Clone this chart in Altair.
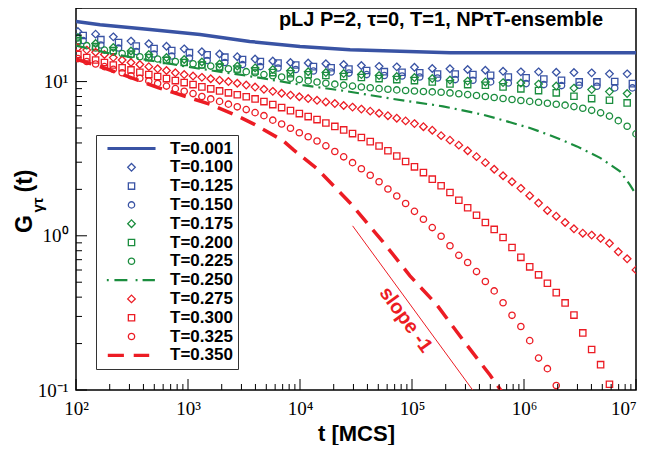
import altair as alt
import pandas as pd

# ---------------- data ----------------
SERIES = ["T=0.001", "T=0.100", "T=0.125", "T=0.150", "T=0.175", "T=0.200",
          "T=0.225", "T=0.250", "T=0.275", "T=0.300", "T=0.325", "T=0.350"]
BLUE, GREEN, RED = "#3953a4", "#1b8d3e", "#ec1c24"
COLORS = [BLUE, BLUE, BLUE, BLUE, GREEN, GREEN, GREEN, GREEN, RED, RED, RED, RED]

# legend / marker symbols (paths in unit coordinates)
DIAMOND = "M0,-1.2L1.2,0L0,1.2L-1.2,0Z"
LEG_SOLID = "M-7.6,-0.3H7.6 M-7.6,0H7.6 M-7.6,0.3H7.6"
LEG_DASHDOT = ("M-7.8,-0.14H-7.2 M-5.4,-0.14H-1.3 M1.3,-0.14H1.9 M3.5,-0.14H7.4 "
               "M-7.8,0.14H-7.2 M-5.4,0.14H-1.3 M1.3,0.14H1.9 M3.5,0.14H7.4")
LEG_DASHED = ("M-7.5,-0.3H-2.4 M0.7,-0.3H5.6 M-7.5,0H-2.4 M0.7,0H5.6 "
              "M-7.5,0.3H-2.4 M0.7,0.3H5.6")
SHAPES = [LEG_SOLID, DIAMOND, "square", "circle", DIAMOND, "square", "circle",
          LEG_DASHDOT, DIAMOND, "square", "circle", LEG_DASHED]

# sampling times (log10 t)
LOGT_DENSE = [2.017, 2.096, 2.175, 2.254, 2.333, 2.412, 2.491, 2.570, 2.650, 2.729,
              2.808, 2.887, 2.966, 3.045, 3.124, 3.203, 3.282, 3.361, 3.440, 3.520,
              3.599, 3.678, 3.757, 3.836, 3.915, 3.994, 4.073, 4.152, 4.231, 4.311,
              4.390, 4.469, 4.548, 4.627, 4.706, 4.785, 4.864, 4.943, 5.022, 5.102,
              5.181, 5.260, 5.339, 5.418, 5.497, 5.576, 5.655, 5.734, 5.813, 5.893,
              5.972, 6.051, 6.130, 6.209, 6.288, 6.367, 6.446, 6.525, 6.604, 6.684,
              6.763, 6.842, 6.921, 7.000]
LOGT_D = [2.017, 2.175, 2.333, 2.491, 2.650, 2.808, 2.966, 3.124, 3.282, 3.440,
          3.599, 3.757, 3.915, 4.073, 4.231, 4.390, 4.548, 4.706, 4.864, 5.022,
          5.181, 5.339, 5.497, 5.655, 5.813, 5.972, 6.130, 6.288, 6.446, 6.604,
          6.763, 6.921]
LOGT_S = [2.064, 2.222, 2.380, 2.538, 2.697, 2.855, 3.013, 3.171, 3.329, 3.487,
          3.646, 3.804, 3.962, 4.120, 4.278, 4.437, 4.595, 4.753, 4.911, 5.069,
          5.228, 5.386, 5.544, 5.702, 5.860, 6.019, 6.177, 6.335, 6.493, 6.651,
          6.810, 6.968]

# lines
T001_T = [100, 164, 457, 1280, 3550, 10000, 28000, 78000, 220000, 1e6, 1e7]
T001_G = [24.5, 23.4, 21.8, 20.2, 18.2, 16.9, 16.1, 15.7, 15.4, 15.4, 15.4]
T250_T = [100, 201, 458, 1280, 2910, 5400, 10600, 26300, 67600, 189000, 431000,
          705000, 1130000, 1820000, 2970000, 4780000, 7190000, 8830000, 10000000]
T250_G = [17.1, 15.2, 13.7, 12.1, 11.1, 10.3, 9.49, 8.65, 7.72, 6.91, 6.1, 5.52,
          5.0, 4.41, 3.80, 3.20, 2.62, 2.14, 1.85]
T350_T = [100, 182, 310, 540, 940, 1600, 2790, 3960, 7050, 8710, 14200, 27900,
          55100, 95900, 167000, 285000, 497000, 631000]
T350_G = [14.0, 12.2, 10.6, 9.14, 8.03, 7.09, 5.97, 5.26, 4.14, 3.62, 2.72, 1.64,
          0.914, 0.55, 0.356, 0.211, 0.125, 0.098]

# sparse marker series
T100_G = [21.1, 20.3, 19.5, 18.3, 17.6, 16.95, 16.3, 15.6, 15.1, 14.5, 14.0, 13.6,
          13.3, 13.2, 13.05, 12.9, 12.7, 12.55, 12.46, 12.37, 12.15, 12.1, 11.97,
          11.84, 11.66, 11.56, 11.56, 11.49, 11.44, 11.39, 11.22, 11.22]
T125_G = [19.9, 18.7, 17.9, 17.0, 16.4, 15.9, 15.4, 14.9, 14.4, 13.9, 13.5, 13.2,
          12.8, 12.5, 12.3, 12.05, 11.8, 11.6, 11.5, 11.4, 11.2, 11.2, 11.1, 10.99,
          10.7, 10.57, 10.4, 10.2, 9.95, 9.95, 10.0, 9.7]
T150_G = [18.46, 17.26, 16.5, 15.66, 15.09, 14.64, 14.21, 13.69, 13.29, 12.89,
          12.51, 12.24, 11.97, 11.7, 11.53, 11.35, 11.1, 10.94, 10.86, 10.7, 10.54,
          10.3, 10.2, 9.95, 9.8, 9.7, 9.56, 9.42, 9.46, 9.32, 9.1, 9.1]
T175_G = [19.3, 17.65, 16.63, 15.78, 14.97, 14.31, 13.9, 13.39, 12.99, 12.6, 12.27,
          11.97, 11.75, 11.58, 11.44, 11.27, 11.1, 10.94, 10.78, 10.62, 10.46, 10.23,
          10.07, 9.95, 9.85, 9.78, 9.63, 9.35, 9.07, 8.87, 8.61, 8.36]
T200_G = [18.46, 16.88, 15.9, 15.09, 14.31, 13.69, 13.29, 12.8, 12.42, 12.06, 11.73,
          11.44, 11.24, 11.07, 10.94, 10.78, 10.62, 10.46, 10.3, 10.15, 9.93, 9.66,
          9.56, 9.46, 9.24, 8.97, 8.74, 8.45, 8.03, 7.76, 7.56, 7.27]

# dense marker series
T225_G = [18.05, 17.1, 16.5, 16.0, 15.5, 15.2, 14.9, 14.5, 14.3, 14.0, 13.8, 13.5,
          13.3, 13.05, 12.8, 12.6, 12.4, 12.1, 11.9, 11.6, 11.4, 11.1, 10.9, 10.7,
          10.5, 10.3, 10.1, 9.93, 9.76, 9.62, 9.48, 9.35, 9.23, 9.12, 9.0, 8.91,
          8.83, 8.75, 8.69, 8.62, 8.57, 8.52, 8.44, 8.34, 8.23, 8.12, 8.0, 7.88,
          7.77, 7.65, 7.54, 7.44, 7.34, 7.24, 7.13, 7.03, 6.88, 6.71, 6.51, 6.27,
          5.97, 5.58, 5.13, 4.58]
T275_G = [16.6, 16.0, 15.5, 15.0, 14.3, 13.8, 13.3, 12.9, 12.5, 12.1, 11.8, 11.4,
          11.1, 10.86, 10.65, 10.43, 10.21, 10.0, 9.75, 9.49, 9.21, 8.91, 8.64, 8.40,
          8.17, 7.97, 7.76, 7.56, 7.38, 7.20, 7.00, 6.83, 6.63, 6.43, 6.23, 6.01,
          5.79, 5.56, 5.34, 5.10, 4.84, 4.46, 4.17, 3.87, 3.56, 3.26, 2.98, 2.70,
          2.45, 2.24, 2.03, 1.82, 1.63, 1.46, 1.34, 1.22, 1.11, 1.04, 1.01, 0.963,
          0.894, 0.787, 0.709, 0.601]
T300_G = [15.0, 14.3, 13.8, 13.3, 12.8, 12.3, 11.9, 11.5, 11.1, 10.78, 10.46, 10.15,
          9.85, 9.56, 9.24, 8.97, 8.70, 8.45, 8.21, 7.97, 7.72, 7.42, 7.09, 6.78,
          6.48, 6.20, 5.93, 5.67, 5.39, 5.12, 4.86, 4.60, 4.34, 4.08, 3.82, 3.56,
          3.29, 3.03, 2.80, 2.57, 2.33, 2.11, 1.91, 1.70, 1.52, 1.36, 1.22, 1.10,
          0.975, 0.839, 0.725, 0.629, 0.558, 0.492, 0.428, 0.367, 0.306, 0.2345,
          0.183, 0.146, 0.109]
T325_G = [14.1, 13.5, 13.0, 12.5, 12.0, 11.4, 10.9, 10.5, 10.1, 9.73, 9.35, 9.00,
          8.66, 8.36, 8.01, 7.72, 7.44, 7.14, 6.86, 6.58, 6.29, 6.01, 5.62, 5.31,
          4.98, 4.66, 4.39, 4.12, 3.83, 3.52, 3.25, 2.98, 2.72, 2.47, 2.24, 2.01,
          1.81, 1.62, 1.44, 1.28, 1.13, 0.993, 0.861, 0.747, 0.671, 0.586, 0.505,
          0.439, 0.368, 0.305, 0.258, 0.209, 0.161, 0.1375, 0.107]

SLOPE_T = [29500, 348000]
SLOPE_G = [1.16, 0.1]

X_MAJOR = [1e2, 1e3, 1e4, 1e5, 1e6, 1e7]
X_MINOR = [m * 10 ** e for e in range(2, 7) for m in range(2, 10)]
Y_MAJOR = [0.1, 1, 10]
Y_MINOR = [0.2, 0.3, 0.4, 0.5, 0.6, 0.7, 0.8, 0.9, 2, 3, 4, 5, 6, 7, 8, 9, 20, 30]

# ---------------- tables ----------------
pt_rows = []
for lab, lt, gs in [("T=0.100", LOGT_D, T100_G), ("T=0.125", LOGT_S, T125_G),
                    ("T=0.150", LOGT_S, T150_G), ("T=0.175", LOGT_D, T175_G),
                    ("T=0.200", LOGT_D, T200_G), ("T=0.225", LOGT_DENSE, T225_G),
                    ("T=0.275", LOGT_DENSE, T275_G), ("T=0.300", LOGT_DENSE, T300_G),
                    ("T=0.325", LOGT_DENSE, T325_G)]:
    pt_rows += [{"series": lab, "t": 10 ** a, "G": g} for a, g in zip(lt, gs)]
pts_df = pd.DataFrame(pt_rows)

W, H = 560, 382
XS = alt.Scale(type="log", domain=[100, 1e7], nice=False)
YS = alt.Scale(type="log", domain=[0.1, 30], nice=False)

SUPS = "['\u207b\u00b9','\u2070','\u00b9','\u00b2','\u00b3','\u2074','\u2075','\u2076','\u2077']"
LABEL_EXPR = "'10' + " + SUPS + "[round(log(datum.value)/LN10)+1]"

XAXIS = alt.Axis(values=X_MAJOR, labelExpr=LABEL_EXPR, ticks=False, domain=False,
                 grid=False, labelFont="Liberation Serif", labelFontSize=19,
                 labelColor="black", labelPadding=9, labelFlush=False,
                 labelOverlap=False,
                 labelAlign={"condition": {"test": "datum.value > 5000000", "value": "right"},
                             "value": "center"},
                 title="t [MCS]", titleFont="Liberation Sans",
                 titleFontSize=22, titleFontWeight="bold", titleColor="black",
                 titleY=50, titleBaseline="alphabetic")
YAXIS = alt.Axis(values=Y_MAJOR, labelExpr=LABEL_EXPR, ticks=False, domain=False,
                 grid=False, labelFont="Liberation Serif", labelFontSize=19,
                 labelColor="black", labelPadding=8, labelFlush=False,
                 labelOverlap=False, title=None)

X = lambda f: alt.X(f, scale=XS, axis=XAXIS)
Y = lambda f: alt.Y(f, scale=YS, axis=YAXIS)

LEG = alt.Legend(title=None, orient="none", legendX=20, legendY=127,
                 labelFont="Liberation Sans", labelFontSize=17,
                 labelFontWeight="bold", labelColor="black", labelOffset=30,
                 symbolOffset=22, padding=5, rowPadding=0.8,
                 symbolSize=40, symbolStrokeWidth=1.3,
                 strokeColor="#333333", fillColor="white",
                 symbolFillColor="transparent")

points = alt.Chart(pts_df).mark_point(filled=False, size=40, strokeWidth=1.3,
                                      clip=True, opacity=1).encode(
    x=X("t:Q"), y=Y("G:Q"),
    color=alt.Color("series:N", scale=alt.Scale(domain=SERIES, range=COLORS), legend=LEG),
    shape=alt.Shape("series:N", scale=alt.Scale(domain=SERIES, range=SHAPES), legend=LEG),
)

def line(ts, gs, color, width, dash=None):
    kw = dict(color=color, strokeWidth=width, clip=True)
    if dash:
        kw["strokeDash"] = dash
    return alt.Chart(pd.DataFrame({"t": ts, "G": gs})).mark_line(**kw).encode(
        x=X("t:Q"), y=Y("G:Q"))

l001 = line(T001_T, T001_G, BLUE, 3.5)
l250 = line(T250_T, T250_G, GREEN, 2.2, [11, 5, 2, 5])
l350 = line(T350_T, T350_G, RED, 3.5, [16, 9])
slope_line = line(SLOPE_T, SLOPE_G, RED, 1)

slope_text = alt.Chart(pd.DataFrame({"t": [88000], "G": [0.285], "s": ["slope -1"]})).mark_text(
    angle=54, font="Liberation Sans", fontSize=20, fontWeight="bold", color=RED,
    align="center", baseline="middle").encode(x=X("t:Q"), y=Y("G:Q"), text="s:N")

def ticks_x(vals, length):
    return alt.Chart(pd.DataFrame({"t": vals})).mark_rule(color="black", strokeWidth=1).encode(
        x=X("t:Q"), y=alt.value(H), y2=alt.value(H - length))

def ticks_y(vals, length):
    return alt.Chart(pd.DataFrame({"G": vals})).mark_rule(color="black", strokeWidth=1).encode(
        y=Y("G:Q"), x=alt.value(0), x2=alt.value(length))

one = pd.DataFrame({"a": [0]})

def label(txt, x, y, size, angle=0, align="center"):
    return alt.Chart(one).mark_text(text=txt, font="Liberation Sans", fontSize=size,
                                    fontWeight="bold", color="black", angle=angle,
                                    align=align, baseline="middle").encode(
        x=alt.value(x), y=alt.value(y))

title = label("pLJ P=2, \u03c4=0, T=1, NP\u03c4T-ensemble", 527, 12, 20, align="right")
g_main = label("G", -51, 216, 23, angle=270)
g_sub = label("\u03b3\u03c4", -38, 197, 15, angle=270)
g_par = label("(t)", -51, 173, 23, angle=270)

chart = alt.layer(
    points, l001, l250, l350, slope_line, slope_text,
    ticks_x(X_MINOR, 6), ticks_x(X_MAJOR, 11), ticks_y(Y_MINOR, 6), ticks_y(Y_MAJOR, 11),
    title, g_main, g_sub, g_par,
).properties(
    width=W, height=H,
    autosize=alt.AutoSizeParams(type="none"),
    padding={"left": 68, "top": 0, "right": 3, "bottom": 55},
).configure_view(stroke="black", strokeWidth=1.5)

chart.save("out.html", embed_options={"renderer": "svg", "actions": False})
